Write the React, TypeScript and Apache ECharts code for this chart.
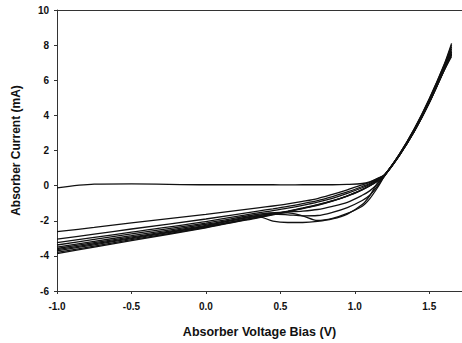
import React, { useEffect, useRef } from "react";
import * as echarts from "echarts";

const voltage = [-1.0, -0.75, -0.5, 0.0, 0.35, 0.45, 0.55, 0.65, 0.75, 0.85, 0.95, 1.05, 1.1, 1.15, 1.2, 1.3, 1.4, 1.5, 1.6, 1.65];

const curve0 = [-0.13, 0.08, 0.1, 0.05, 0.05, 0.05, 0.04, 0.05, 0.05, 0.05, 0.07, 0.12, 0.22, 0.4, 0.62, 1.8, 3.25, 4.95, 6.9, 8.1];
const curve1 = [-2.62, -2.38, -2.12, -1.64, -1.27, -1.16, -1.04, -0.9, -0.74, -0.5, -0.24, 0.04, 0.18, 0.38, 0.62, 1.8, 3.22, 4.92, 6.85, 8.0];
const curve2 = [-3.05, -2.76, -2.47, -1.9, -1.45, -1.32, -1.18, -1.02, -0.85, -0.62, -0.36, -0.05, 0.12, 0.34, 0.61, 1.78, 3.2, 4.88, 6.8, 7.9];
const curve3 = [-3.25, -2.95, -2.65, -2.05, -1.55, -1.42, -1.28, -1.12, -0.94, -0.72, -0.44, -0.12, 0.07, 0.3, 0.6, 1.77, 3.18, 4.85, 6.75, 7.8];
const curve4 = [-3.38, -3.06, -2.75, -2.13, -1.63, -1.55, -1.5, -1.45, -1.36, -1.18, -0.95, -0.55, -0.3, 0.08, 0.58, 1.75, 3.15, 4.8, 6.7, 7.7];
const curve5 = [-3.5, -3.17, -2.85, -2.2, -1.7, -1.62, -1.66, -1.72, -1.7, -1.52, -1.25, -0.85, -0.55, -0.05, 0.56, 1.74, 3.12, 4.76, 6.62, 7.6];
const curve6 = [-3.58, -3.25, -2.92, -2.26, -1.72, -1.56, -1.55, -1.72, -1.98, -1.86, -1.58, -1.17, -0.75, -0.15, 0.55, 1.73, 3.1, 4.72, 6.58, 7.5];
const curve7 = [-3.65, -3.31, -2.98, -2.3, -1.76, -2.02, -2.1, -2.1, -2.04, -1.9, -1.62, -1.08, -0.58, 0.12, 0.55, 1.72, 3.08, 4.7, 6.55, 7.45];
const curve8 = [-3.72, -3.37, -3.02, -2.33, -1.78, -1.62, -1.45, -1.27, -1.08, -0.86, -0.58, -0.22, 0.0, 0.26, 0.6, 1.76, 3.15, 4.8, 6.7, 7.6];
const curve9 = [-3.8, -3.44, -3.08, -2.37, -1.8, -1.64, -1.47, -1.29, -1.1, -0.87, -0.59, -0.23, -0.01, 0.25, 0.59, 1.74, 3.12, 4.76, 6.62, 7.5];
const curve10 = [-3.87, -3.5, -3.13, -2.4, -1.83, -1.66, -1.49, -1.31, -1.12, -0.88, -0.6, -0.24, -0.02, 0.24, 0.58, 1.72, 3.1, 4.72, 6.55, 7.35];

const curves = [curve0, curve1, curve2, curve3, curve4, curve5, curve6, curve7, curve8, curve9, curve10];

const xTitle = "Absorber Voltage Bias (V)";
const yTitle = "Absorber Current (mA)";

const FONT = "Arial, 'Liberation Sans', sans-serif";

export default function App() {
  const ref = useRef<HTMLDivElement>(null);
  useEffect(() => {
    if (!ref.current) return;
    const chart = echarts.init(ref.current, undefined, { renderer: "svg" });
    const axisLine = { show: true, lineStyle: { color: "#333", width: 1 } };
    chart.setOption({
      animation: false,
      backgroundColor: "#fff",
      grid: { left: 57, top: 10, right: 0, bottom: 51 },
      xAxis: [
        {
          type: "value",
          min: -1,
          max: 1.72,
          interval: 0.5,
          name: xTitle,
          nameLocation: "middle",
          nameGap: 34,
          nameTextStyle: { fontFamily: FONT, fontWeight: "bold", fontSize: 12.5, color: "#111" },
          axisLine: { ...axisLine, onZero: false },
          axisTick: { show: true, length: 3, lineStyle: { color: "#333" } },
          axisLabel: {
            fontFamily: FONT,
            fontWeight: "bold",
            fontSize: 10,
            color: "#111",
            margin: 10,
            showMaxLabel: false,
            formatter: (v: number) =>
              Math.abs(v * 2 - Math.round(v * 2)) > 1e-6 ? "" : v.toFixed(1),
          },
          splitLine: { show: false },
        },
        {
          type: "value",
          position: "top",
          min: -1,
          max: 1.72,
          axisLine: { ...axisLine, onZero: false },
          axisTick: { show: false },
          axisLabel: { show: false },
          splitLine: { show: false },
        },
      ],
      yAxis: {
        type: "value",
        min: -6,
        max: 10,
        interval: 2,
        name: yTitle,
        nameLocation: "middle",
        nameGap: 35,
        nameTextStyle: { fontFamily: FONT, fontWeight: "bold", fontSize: 12, color: "#111" },
        axisLine: { ...axisLine, onZero: false },
        axisTick: { show: true, length: 3, lineStyle: { color: "#333" } },
        axisLabel: { fontFamily: FONT, fontWeight: "bold", fontSize: 10, color: "#111", margin: 8 },
        splitLine: { show: false },
      },
      series: curves.map((c, i) => ({
        type: "line",
        name: "c" + i,
        xAxisIndex: 0,
        data: voltage.map((v, j) => [v, c[j]]),
        showSymbol: false,
        symbol: "none",
        smooth: 0.3,
        lineStyle: { color: "#111", width: 1.3 },
      })),
    });
    return () => chart.dispose();
  }, []);
  return (
    <div style={{ position: "absolute", left: 0, top: 0, width: 462, height: 343, overflow: "hidden", background: "#fff" }}>
      <div ref={ref} style={{ width: 462, height: 343 }} />
    </div>
  );
}
